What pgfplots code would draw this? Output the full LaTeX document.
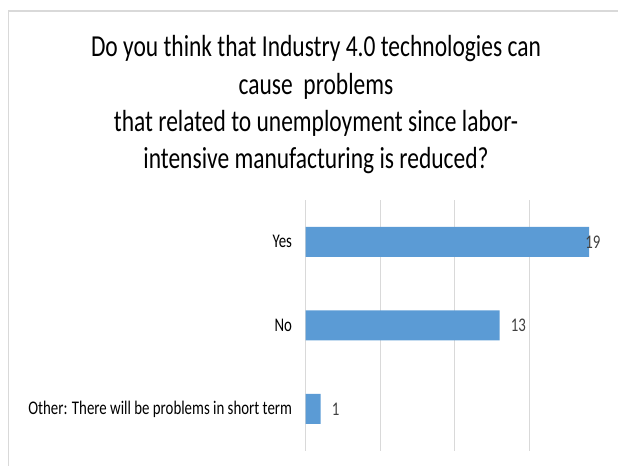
\documentclass[border=0pt]{standalone}
\usepackage{pgfplots}
\pgfplotsset{compat=1.18}
\usepackage{pgfplotstable}
\usepackage{fontspec}
\setmainfont{Carlito}[FakeStretch=0.77]
\definecolor{barblue}{HTML}{5B9BD5}
\definecolor{gridgray}{HTML}{D9D9D9}
\definecolor{framegray}{HTML}{D9D9D9}
\definecolor{valgray}{HTML}{404040}
\pgfplotstableread{
y val shift
0 1 11
1 13 11
2 19 -4
}\data
\begin{document}
\begin{tikzpicture}[x=1bp,y=1bp]
\path[use as bounding box] (0,0) rectangle (618,466);
\draw[framegray, line width=1.5bp] (8.5,0) -- (8.5,455) -- (618,455);
\begin{axis}[
  at={(305.7bp,15.3bp)}, anchor=south west,
  scale only axis, width=298.3bp, height=250.7bp,
  xmin=0, xmax=20, ymin=-0.5, ymax=2.5,
  xtick={0,5,10,15}, xticklabels={},
  xmajorgrids, major grid style={gridgray, line width=1.2bp},
  ytick={0,1,2},
  yticklabels={Other: There will be problems in short term, No, Yes},
  yticklabel style={font=\fontsize{19.3bp}{22bp}\selectfont, text=black, inner sep=0pt, xshift=-13.5bp},
  axis line style={draw=none},
  tick style={draw=none},
  /pgf/number format/assume math mode=true,
  clip=false,
]
\addplot[xbar, fill=barblue, draw=none, bar width=30bp,
  nodes near coords,
  visualization depends on={\thisrow{shift} \as \myshift},
  every node near coord/.append style={anchor=west, inner sep=0pt, xshift=\myshift bp, font=\fontsize{19.3bp}{22bp}\selectfont, text=valgray},
] table[x=val, y=y] {\data};
\end{axis}
\begin{scope}[every node/.style={anchor=base, font=\fontsize{30.5bp}{36bp}\selectfont, text=black, inner sep=0pt}]
\node at (316,409) {Do you think that Industry 4.0 technologies can};
\node at (316,371.5) {cause\ \ problems};
\node at (316,334.5) {that related to unemployment since labor-};
\node at (316,297.5) {intensive manufacturing is reduced?};
\end{scope}
\end{tikzpicture}
\end{document}
